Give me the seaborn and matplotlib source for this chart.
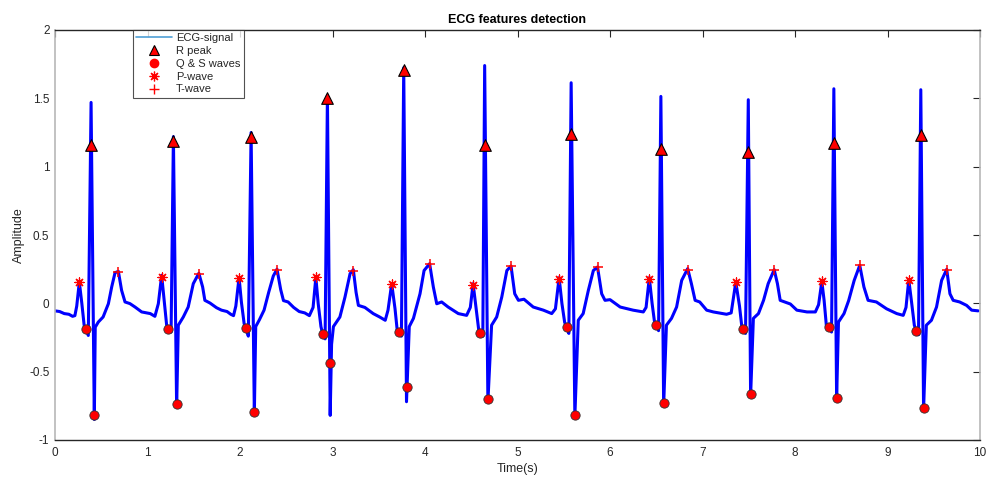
import numpy as np
import pandas as pd
import matplotlib
matplotlib.use("Agg")
import matplotlib.pyplot as plt
from matplotlib.lines import Line2D
import seaborn as sns

# ---------------- data ----------------
ecg_time = [
    0.00, 0.05, 0.10, 0.15, 0.19,
    # beat 1
    0.215, 0.235, 0.263, 0.29, 0.315, 0.335, 0.36, 0.39, 0.425, 0.435, 0.468, 0.52, 0.577, 0.613,
    0.649, 0.685, 0.72, 0.757, 0.81, 0.865, 0.937, 0.99, 1.03, 1.08,
    # beat 2
    1.117, 1.153, 1.18, 1.207, 1.225, 1.255, 1.28, 1.315, 1.333, 1.387, 1.44, 1.495, 1.555, 1.596,
    1.62, 1.676, 1.746, 1.80, 1.86, 1.90, 1.93,
    # beat 3
    1.955, 1.99, 2.015, 2.045, 2.065, 2.09, 2.12, 2.155, 2.17, 2.21, 2.26, 2.31, 2.36, 2.40, 2.44,
    2.47, 2.52, 2.58, 2.64, 2.70, 2.75,
    # beat 4
    2.79, 2.82, 2.845, 2.875, 2.894, 2.92, 2.945, 2.975, 2.99, 3.01, 3.08, 3.135, 3.19, 3.225, 3.255,
    3.28, 3.35, 3.44, 3.51, 3.57, 3.60,
    # beat 5
    3.64, 3.676, 3.70, 3.72, 3.745, 3.77, 3.80, 3.83, 3.875, 3.946, 3.99, 4.05, 4.09, 4.127, 4.18,
    4.25, 4.36, 4.45, 4.49,
    # beat 6
    4.52, 4.55, 4.58, 4.60, 4.625, 4.645, 4.68, 4.72, 4.775, 4.83, 4.885, 4.93, 4.97, 5.01, 5.07,
    5.17, 5.28, 5.37, 5.41,
    # beat 7
    5.45, 5.48, 5.51, 5.53, 5.555, 5.58, 5.62, 5.657, 5.71, 5.766, 5.82, 5.865, 5.91, 5.946, 6.00,
    6.11, 6.25, 6.36, 6.39,
    # beat 8
    6.425, 6.455, 6.48, 6.50, 6.525, 6.55, 6.58, 6.61, 6.665, 6.72, 6.775, 6.84, 6.88, 6.92, 6.97,
    7.045, 7.117, 7.26, 7.31,
    # beat 9
    7.36, 7.40, 7.425, 7.44, 7.465, 7.495, 7.52, 7.55, 7.605, 7.66, 7.71, 7.775, 7.81, 7.84, 7.89,
    7.95, 8.02, 8.13, 8.22, 8.255,
    # beat 10
    8.29, 8.315, 8.34, 8.37, 8.395, 8.42, 8.45, 8.47, 8.53, 8.58, 8.64, 8.70, 8.745, 8.79, 8.88,
    8.99, 9.10, 9.17, 9.20,
    # beat 11
    9.23, 9.26, 9.29, 9.31, 9.335, 9.36, 9.39, 9.42, 9.475, 9.53, 9.585, 9.64, 9.675, 9.71, 9.78,
    9.855, 9.91, 9.98,
]
ecg_amp = [
    -0.055, -0.06, -0.075, -0.08, -0.095,
    # beat 1
    -0.09, -0.02, 0.156, 0.0, -0.16, -0.193, -0.235, 1.47, -0.85, -0.175, -0.137, -0.10, -0.003, 0.12,
    0.224, 0.234, 0.095, 0.01, -0.002, -0.027, -0.063, -0.07, -0.075, -0.095,
    # beat 2
    -0.003, 0.205, 0.022, -0.16, -0.19, -0.21, 1.22, -0.76, -0.16, -0.10, -0.027, 0.144, 0.22, 0.12,
    0.022, 0.002, -0.032, -0.05, -0.06, -0.08, -0.09,
    # beat 3
    -0.02, 0.19, 0.01, -0.15, -0.18, -0.24, 1.25, -0.81, -0.17, -0.12, -0.05, 0.08, 0.20, 0.25, 0.10,
    0.02, 0.01, -0.03, -0.06, -0.07, -0.09,
    # beat 4
    -0.03, 0.19, 0.0, -0.17, -0.225, -0.26, 1.52, -0.82, -0.30, -0.17, -0.10, 0.046, 0.217, 0.246, 0.08,
    -0.015, -0.03, -0.075, -0.10, -0.124, -0.05,
    # beat 5
    0.144, -0.04, -0.20, -0.212, -0.24, 1.724, -0.72, -0.17, -0.11, 0.07, 0.24, 0.29, 0.12, -0.003, 0.01,
    -0.027, -0.075, -0.088, -0.03,
    # beat 6
    0.144, -0.02, -0.19, -0.215, -0.24, 1.74, -0.72, -0.16, -0.10, 0.046, 0.24, 0.273, 0.07, 0.022, 0.03,
    -0.027, -0.05, -0.075, -0.04,
    # beat 7
    0.188, 0.0, -0.14, -0.168, -0.22, 1.614, -0.83, -0.124, -0.075, 0.095, 0.24, 0.266, 0.07, 0.022, 0.027,
    -0.027, -0.05, -0.063, -0.03,
    # beat 8
    0.188, 0.0, -0.13, -0.159, -0.20, 1.514, -0.75, -0.16, -0.11, -0.027, 0.168, 0.254, 0.144, 0.022, 0.01,
    -0.05, -0.063, -0.08, -0.07,
    # beat 9
    0.156, -0.02, -0.17, -0.19, -0.22, 1.49, -0.68, -0.11, -0.075, 0.022, 0.144, 0.246, 0.144, 0.022, 0.01,
    -0.005, -0.05, -0.063, -0.063, -0.01,
    # beat 10
    0.16, 0.02, -0.17, -0.173, -0.21, 1.57, -0.70, -0.137, -0.075, 0.02, 0.168, 0.278, 0.12, 0.022, 0.01,
    -0.04, -0.075, -0.088, -0.03,
    # beat 11
    0.173, 0.01, -0.16, -0.20, -0.23, 1.563, -0.78, -0.16, -0.124, -0.027, 0.168, 0.249, 0.07, 0.022, 0.01,
    -0.015, -0.05, -0.055,
]

r_time = [0.39, 1.28, 2.12, 2.945, 3.77, 4.645, 5.58, 6.55, 7.495, 8.42, 9.36]
r_amp = [1.16, 1.19, 1.22, 1.50, 1.71, 1.16, 1.24, 1.13, 1.11, 1.17, 1.23]

q_time = [0.335, 1.225, 2.065, 2.894, 3.72, 4.60, 5.53, 6.50, 7.44, 8.37, 9.31]
q_amp = [-0.19, -0.19, -0.18, -0.225, -0.21, -0.215, -0.17, -0.16, -0.19, -0.175, -0.20]
s_time = [0.425, 1.315, 2.155, 2.97, 3.80, 4.68, 5.62, 6.58, 7.52, 8.45, 9.39]
s_amp = [-0.82, -0.74, -0.795, -0.44, -0.61, -0.70, -0.815, -0.73, -0.66, -0.69, -0.765]

p_time = [0.263, 1.153, 1.99, 2.82, 3.64, 4.52, 5.45, 6.425, 7.36, 8.29, 9.23]
p_amp = [0.155, 0.195, 0.185, 0.19, 0.14, 0.135, 0.18, 0.18, 0.155, 0.16, 0.17]

t_time = [0.685, 1.56, 2.40, 3.225, 4.05, 4.93, 5.865, 6.84, 7.775, 8.70, 9.64]
t_amp = [0.23, 0.215, 0.245, 0.24, 0.285, 0.27, 0.265, 0.245, 0.245, 0.28, 0.245]

x_ticks = list(range(0, 11))
y_ticks = [-1, -0.5, 0, 0.5, 1, 1.5, 2]
y_tick_labels = ["-1", "-0.5", "0", "0.5", "1", "1.5", "2"]
legend_labels = ["ECG-signal", "R peak", "Q & S waves", "P-wave", "T-wave"]

# ---------------- plotting ----------------
sns.set_style("white")
plt.rcParams["font.family"] = ["Liberation Sans", "DejaVu Sans"]

fig = plt.figure(figsize=(9.86, 4.78), dpi=100)
ax = fig.add_axes([55 / 986, 38 / 478, 925 / 986, 410 / 478])

ecg = pd.DataFrame({"t": ecg_time, "v": ecg_amp})
sns.lineplot(data=ecg, x="t", y="v", ax=ax, color="#0000ff", linewidth=2.2,
             sort=False, estimator=None, zorder=2)

peaks = pd.DataFrame({"t": r_time, "v": r_amp})
sns.scatterplot(data=peaks, x="t", y="v", ax=ax, marker="^", s=70,
                color="#ff0000", edgecolor="black", linewidth=0.8, zorder=4)

qs = pd.DataFrame({"t": q_time + s_time, "v": q_amp + s_amp})
sns.scatterplot(data=qs, x="t", y="v", ax=ax, marker="o", s=45,
                color="#ff0000", edgecolor="#333333", linewidth=0.6, zorder=4)

ax.scatter(p_time, p_amp, marker=(8, 2, 0), s=42, color="#ff0000", linewidths=0.9, zorder=5)
ax.scatter(t_time, t_amp, marker="+", s=50, color="#ff0000", linewidths=1.1, zorder=5)

ax.set_xlim(0, 10)
ax.set_ylim(-1, 2)
ax.set_xticks(x_ticks)
ax.set_xticklabels([str(v) for v in x_ticks])
ax.set_yticks(y_ticks)
ax.set_yticklabels(y_tick_labels)
ax.tick_params(direction="in", length=5, width=0.8, colors="#262626", labelsize=8.5,
               top=True, right=True, labelcolor="#262626")
ax.tick_params(axis="x", pad=5)
ax.tick_params(axis="y", pad=4)

for side in ["top", "bottom"]:
    ax.spines[side].set_color("#262626")
    ax.spines[side].set_linewidth(1.0)
for side in ["left", "right"]:
    ax.spines[side].set_color("#b8b8b8")
    ax.spines[side].set_linewidth(1.2)

ax.set_xlabel("Time(s)", fontsize=9, color="#262626", labelpad=3)
ax.set_ylabel("Amplitude", fontsize=9, color="#262626", labelpad=3)
ax.set_title("ECG features detection", fontsize=9, fontweight="bold", color="black", pad=5)

handles = [
    Line2D([], [], color="#4f9fd6", linewidth=1.2),
    Line2D([], [], linestyle="none", marker="^", markersize=7.5, markerfacecolor="#ff0000",
           markeredgecolor="black", markeredgewidth=0.8),
    Line2D([], [], linestyle="none", marker="o", markersize=6, markerfacecolor="#ff0000",
           markeredgecolor="#ff0000"),
    Line2D([], [], linestyle="none", marker=(8, 2, 0), markersize=7, color="#ff0000",
           markeredgewidth=0.9),
    Line2D([], [], linestyle="none", marker="+", markersize=7, color="#ff0000",
           markeredgewidth=1.0),
]
leg = ax.legend(handles, legend_labels, loc="upper left", bbox_to_anchor=(0.084, 1.0),
                borderaxespad=0, fontsize=8, frameon=True, fancybox=False,
                handlelength=3.2, handletextpad=0.4, labelspacing=0.25, borderpad=0.3)
leg.get_frame().set_edgecolor("#262626")
leg.get_frame().set_linewidth(0.8)
for txt in leg.get_texts():
    txt.set_color("#262626")

fig.savefig("out.png", dpi=100)
